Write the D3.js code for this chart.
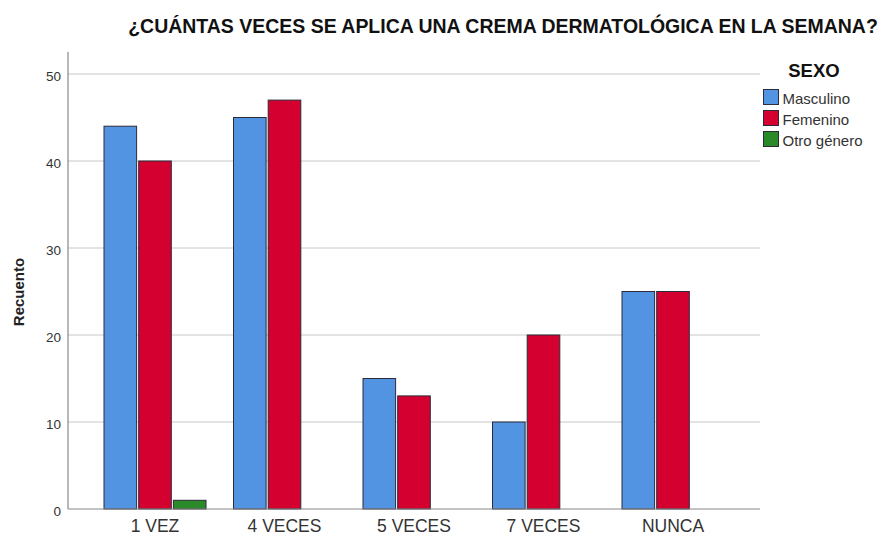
<!DOCTYPE html>
<html>
<head>
<meta charset="utf-8">
<script src="https://cdn.jsdelivr.net/npm/d3@7"></script>
<style>
  html, body { margin: 0; padding: 0; background: #fff; }
  svg { display: block; font-family: Arial, "Liberation Sans", sans-serif; }
</style>
</head>
<body>
<svg id="chart" width="882" height="537"></svg>
<script>
// Frequencies of application per week, split by sex
const categories = ["1 VEZ", "4 VECES", "5 VECES", "7 VECES", "NUNCA"];
const seriesNames = ["Masculino", "Femenino", "Otro género"];
const masculino = [44, 45, 15, 10, 25];
const femenino = [40, 47, 13, 20, 25];
const otroGenero = [1, 0, 0, 0, 0];
const yTicks = [0, 10, 20, 30, 40, 50];
const colors = ["#5294e2", "#d4002f", "#2a8a2a"];

const seriesValues = [masculino, femenino, otroGenero];
const svg = d3.select("#chart");

const axisLeft = 68, plotRight = 760, plotTop = 52, baseline = 509;

const y = d3.scaleLinear().domain([0, 50]).range([baseline, 74]);
const x = d3.scaleBand().domain(categories).range([90.25, 737.75]).paddingInner(0).paddingOuter(0);
const inner = d3.scaleBand().domain(seriesNames).range([0, 102]).paddingInner(0.06);

// gridlines
svg.append("g")
  .selectAll("line")
  .data(yTicks.filter(d => d > 0))
  .join("line")
  .attr("x1", axisLeft).attr("x2", plotRight)
  .attr("y1", d => y(d)).attr("y2", d => y(d))
  .attr("stroke", "#c8c8c8").attr("stroke-width", 1);

// bars
const groups = svg.append("g")
  .selectAll("g")
  .data(categories)
  .join("g")
  .attr("transform", d => `translate(${x(d) + x.bandwidth() / 2 - 51},0)`);

groups.selectAll("rect")
  .data((c, i) => seriesNames.map((s, j) => ({ s, j, v: seriesValues[j][i] })).filter(d => d.v > 0))
  .join("rect")
  .attr("x", d => inner(d.s))
  .attr("width", inner.bandwidth())
  .attr("y", d => y(d.v))
  .attr("height", d => baseline - y(d.v))
  .attr("fill", d => colors[d.j])
  .attr("stroke", "#2b2b3a")
  .attr("stroke-width", 1);

// axes lines
svg.append("line").attr("x1", axisLeft).attr("x2", axisLeft)
  .attr("y1", plotTop).attr("y2", baseline)
  .attr("stroke", "#888").attr("stroke-width", 1.2);
svg.append("line").attr("x1", axisLeft).attr("x2", plotRight)
  .attr("y1", baseline).attr("y2", baseline)
  .attr("stroke", "#888").attr("stroke-width", 1.2);

// y tick labels
svg.append("g")
  .selectAll("text")
  .data(yTicks)
  .join("text")
  .attr("x", 61).attr("y", d => y(d) + 6.5)
  .attr("text-anchor", "end")
  .attr("font-size", 13.5)
  .attr("fill", "#333")
  .text(d => d);

// category labels
svg.append("g")
  .selectAll("text")
  .data(categories)
  .join("text")
  .attr("x", d => x(d) + x.bandwidth() / 2)
  .attr("y", 532)
  .attr("text-anchor", "middle")
  .attr("font-size", 17.5)
  .attr("fill", "#333")
  .text(d => d);

// y axis title
svg.append("text")
  .attr("transform", "translate(24,292) rotate(-90)")
  .attr("text-anchor", "middle")
  .attr("font-size", 15)
  .attr("font-weight", "bold")
  .attr("fill", "#222")
  .text("Recuento");

// chart title
const title = svg.append("text")
  .attr("x", 503).attr("y", 33)
  .attr("text-anchor", "middle")
  .attr("font-size", 16)
  .attr("font-weight", "bold")
  .attr("fill", "#111")
  .text("¿CUÁNTAS VECES SE APLICA UNA CREMA DERMATOLÓGICA EN LA SEMANA?");
const tw = title.node().getComputedTextLength();
if (tw > 0) title.attr("font-size", 16 * 750 / tw);

// legend
const legend = svg.append("g");
legend.append("text")
  .attr("x", 814).attr("y", 77)
  .attr("text-anchor", "middle")
  .attr("font-size", 18.5)
  .attr("font-weight", "bold")
  .attr("fill", "#111")
  .text("SEXO");
const items = legend.selectAll("g")
  .data(seriesNames)
  .join("g")
  .attr("transform", (d, i) => `translate(763.5,${89.5 + i * 21})`);
items.append("rect")
  .attr("width", 15).attr("height", 15)
  .attr("fill", (d, i) => colors[i])
  .attr("stroke", "#2b2b3a").attr("stroke-width", 1);
items.append("text")
  .attr("x", 19).attr("y", 14.5)
  .attr("font-size", 15)
  .attr("fill", "#333")
  .text(d => d);
</script>
</body>
</html>
